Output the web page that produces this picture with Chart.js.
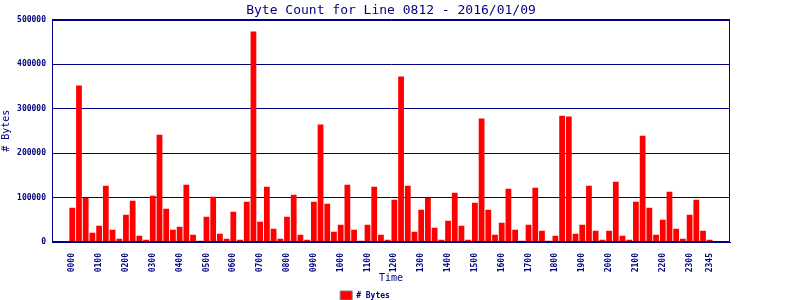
<!DOCTYPE html>
<html lang="en">
<head>
<meta charset="UTF-8">
<title>Byte Count for Line 0812 - 2016/01/09</title>
<script src="https://cdn.jsdelivr.net/npm/chart.js"></script>
<style>
    body { margin: 0; background: #ffffff; }
    canvas { display: block; }
</style>
</head>
<body>
<canvas id="byteChart" width="800" height="300"></canvas>
<script>
// 15 minute slots for the day
const times = [
    '0000', '0015', '0030', '0045', '0100', '0115', '0130', '0145',
    '0200', '0215', '0230', '0245', '0300', '0315', '0330', '0345',
    '0400', '0415', '0430', '0445', '0500', '0515', '0530', '0545',
    '0600', '0615', '0630', '0645', '0700', '0715', '0730', '0745',
    '0800', '0815', '0830', '0845', '0900', '0915', '0930', '0945',
    '1000', '1015', '1030', '1045', '1100', '1115', '1130', '1145',
    '1200', '1215', '1230', '1245', '1300', '1315', '1330', '1345',
    '1400', '1415', '1430', '1445', '1500', '1515', '1530', '1545',
    '1600', '1615', '1630', '1645', '1700', '1715', '1730', '1745',
    '1800', '1815', '1830', '1845', '1900', '1915', '1930', '1945',
    '2000', '2015', '2030', '2045', '2100', '2115', '2130', '2145',
    '2200', '2215', '2230', '2245', '2300', '2315', '2330', '2345'
];

const byteCounts = [
    77200, 351600, 99700, 21000, 36700, 126700, 27700, 7500,
    61500, 93000, 14200, 5200, 104200, 241400, 75000, 27700,
    34500, 128900, 16500, 3000, 57000, 102000, 18700, 7500,
    68200, 5200, 90700, 473000, 45700, 124400, 30000, 7500,
    57000, 106400, 16500, 5200, 90700, 263900, 86200, 23200,
    39000, 128900, 27700, 3000, 39000, 124400, 16500, 5200,
    95200, 371800, 126700, 23200, 72700, 99700, 32200, 5200,
    48000, 110900, 36700, 5200, 88500, 277400, 72700, 16500,
    43500, 119900, 27700, 3000, 39000, 122200, 25500, 3000,
    14200, 284100, 281900, 18700, 39000, 126700, 25500, 5200,
    25500, 135700, 14200, 5200, 90700, 239100, 77200, 16500,
    50200, 113200, 30000, 7500, 61500, 95200, 25500, 5200
];

// labelled slots: every hour plus the last slot
const tickSlots = times
    .map((t, i) => i)
    .filter(i => i % 4 === 0 || i === times.length - 1);

const navy = '#000080';
const mono = 'DejaVu Sans Mono';

// box round the plot area
const frame = {
    id: 'frame',
    afterDatasetsDraw(chart) {
        const {ctx, chartArea: a} = chart;
        ctx.save();
        ctx.strokeStyle = navy;
        ctx.lineWidth = 1;
        ctx.strokeRect(Math.round(a.left) + 0.5, Math.round(a.top) + 0.5,
            Math.round(a.right - a.left) - 1, Math.round(a.bottom - a.top) - 1);
        ctx.restore();
    }
};

new Chart(document.getElementById('byteChart'), {
    type: 'bar',
    data: {
        datasets: [{
            label: '# Bytes',
            data: byteCounts.map((v, i) => ({x: i, y: v})),
            backgroundColor: '#ff0000',
            borderWidth: 0,
            categoryPercentage: 1,
            barPercentage: 0.86
        }]
    },
    options: {
        responsive: false,
        animation: false,
        layout: {padding: {left: 0, right: 70, top: 0, bottom: -10}},
        plugins: {
            title: {
                display: true,
                fullSize: false,
                text: 'Byte Count for Line 0812 - 2016/01/09',
                color: navy,
                font: {family: mono, size: 13, weight: 'normal'},
                padding: {top: 3, bottom: 1}
            },
            legend: {
                position: 'bottom',
                labels: {
                    boxWidth: 12,
                    boxHeight: 9,
                    padding: 2,
                    color: navy,
                    font: {family: mono, size: 8, weight: 'bold'},
                    generateLabels: chart => chart.data.datasets.map((d, i) => ({
                        text: d.label,
                        fillStyle: '#ff0000',
                        strokeStyle: '#808080',
                        lineWidth: 1,
                        fontColor: navy,
                        datasetIndex: i
                    }))
                }
            },
            tooltip: {enabled: false}
        },
        scales: {
            x: {
                type: 'linear',
                min: -1,
                max: 96,
                afterFit: s => { s.height = 47; },
                grid: {display: false},
                border: {color: navy},
                afterBuildTicks: s => { s.ticks = tickSlots.map(v => ({value: v})); },
                ticks: {
                    autoSkip: false,
                    minRotation: 90,
                    maxRotation: 90,
                    padding: 3,
                    color: navy,
                    font: {family: mono, size: 8, weight: 'bold'},
                    callback: v => times[v]
                },
                title: {
                    display: true,
                    text: 'Time',
                    color: navy,
                    font: {family: mono, size: 10, weight: 'normal'},
                    padding: {top: 0, bottom: 5}
                }
            },
            y: {
                min: 0,
                max: 500000,
                afterFit: s => { s.width = 52; },
                grid: {color: navy, drawTicks: false},
                border: {color: navy},
                ticks: {
                    stepSize: 100000,
                    padding: 6,
                    color: navy,
                    font: {family: mono, size: 8, weight: 'bold'},
                    callback: v => String(v)
                },
                title: {
                    display: true,
                    text: '# Bytes',
                    color: navy,
                    font: {family: mono, size: 10, weight: 'normal'},
                    padding: 0
                }
            }
        }
    },
    plugins: [frame]
});
</script>
</body>
</html>
